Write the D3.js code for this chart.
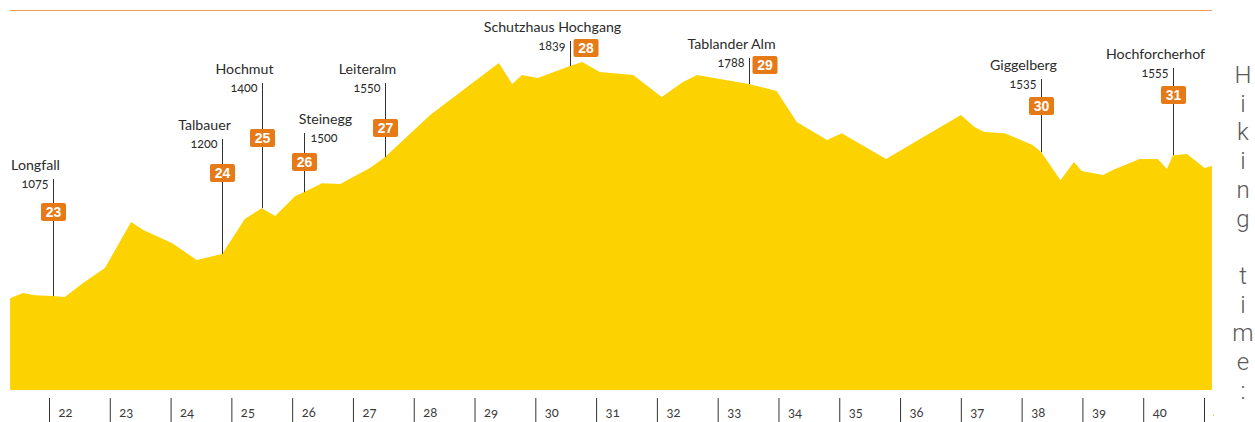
<!DOCTYPE html>
<html>
<head>
<meta charset="utf-8">
<script src="https://cdn.jsdelivr.net/npm/d3@7"></script>
<style>
  html, body { margin: 0; padding: 0; background: #fff; }
  svg { display: block; }
  .name { font-family: Lato, "Open Sans", sans-serif; font-size: 14.2px; fill: #2b2b2b; }
  .elev { font-family: Lato, "Open Sans", sans-serif; font-size: 12.5px; fill: #2b2b2b; font-variant-numeric: oldstyle-nums; }
  .badge-text { font-family: "Liberation Sans", Arial, sans-serif; font-size: 14px; font-weight: bold; fill: #fff; }
  .tick-label { font-family: Lato, "Open Sans", sans-serif; font-size: 13px; fill: #3a3a3a; font-variant-numeric: oldstyle-nums; }
  .side-title { font-family: Roboto, "Open Sans", sans-serif; font-weight: 300; font-size: 24px; fill: #5a5a5a; }
</style>
</head>
<body>
<script>
"use strict";

// elevation profile (km along route, metres)
const profileKm = [21.36, 21.57, 21.77, 22.07, 22.26, 22.56, 22.92, 23.35, 23.55, 24.02,
  24.43, 24.85, 25.22, 25.50, 25.72, 26.05, 26.19, 26.49, 26.79, 27.28,
  27.53, 28.27, 29.40, 29.62, 29.78, 30.04, 30.57, 30.77, 31.06, 31.61,
  32.08, 32.43, 32.66, 33.51, 33.97, 34.30, 34.80, 35.04, 35.77, 37.00,
  37.23, 37.39, 37.72, 38.18, 38.32, 38.64, 38.86, 38.99, 39.34, 39.50,
  39.94, 40.24, 40.39, 40.49, 40.72, 41.01, 41.13];
const profileElev = [1068, 1085, 1078, 1075, 1072, 1118, 1168, 1321, 1294, 1251,
  1195, 1215, 1331, 1367, 1341, 1407, 1420, 1450, 1447, 1500,
  1537, 1676, 1849, 1779, 1809, 1799, 1839, 1852, 1819, 1809,
  1736, 1786, 1809, 1779, 1756, 1653, 1593, 1616, 1530, 1676,
  1636, 1620, 1616, 1577, 1553, 1460, 1520, 1490, 1477, 1494,
  1530, 1530, 1497, 1543, 1547, 1500, 1507];

// waypoints
const stationNames = ['Longfall', 'Talbauer', 'Hochmut', 'Steinegg', 'Leiteralm',
  'Schutzhaus Hochgang', 'Tablander Alm', 'Giggelberg', 'Hochforcherhof'];
const stationElev = ['1075', '1200', '1400', '1500', '1550', '1839', '1788', '1535', '1555'];
const stationNo = ['23', '24', '25', '26', '27', '28', '29', '30', '31'];
const stationKm = [22.07, 24.85, 25.50, 26.19, 27.53, 30.57, 33.51, 38.32, 40.49];

// axis ticks (km)
const tickKm = d3.range(22, 42);
const sideTitle = 'Hiking time:';

// label placement (annotation layout only)
const labelLayout = [
  { nameY: 165, badgeY: 212, side: 'left', inline: false },
  { nameY: 125, badgeY: 173, side: 'left', inline: false },
  { nameY: 69, badgeY: 138, side: 'left', inline: false },
  { nameY: 119, badgeY: 162, side: 'right', inline: false },
  { nameY: 69, badgeY: 128, side: 'left', inline: false },
  { nameY: 27, badgeY: 0, side: 'left', inline: true },
  { nameY: 44, badgeY: 0, side: 'left', inline: true },
  { nameY: 65, badgeY: 106, side: 'left', inline: false },
  { nameY: 54, badgeY: 95, side: 'left', inline: false }
];

const width = 1255, height = 422;
const plotBottom = 390, plotTop = 10;
const plotLeft = 10, plotRight = 1212;

const svg = d3.select('body').append('svg')
  .attr('width', width)
  .attr('height', height);

const x = d3.scaleLinear().domain([22, 41]).range([49, 1204]);
const y = d3.scaleLinear().domain([763, 2025]).range([plotBottom, plotTop]);

const profile = profileKm.map((k, i) => ({ km: k, elev: profileElev[i] }));

// top rule
svg.append('line')
  .attr('x1', plotLeft).attr('x2', plotRight)
  .attr('y1', plotTop + 0.5).attr('y2', plotTop + 0.5)
  .attr('stroke', '#ec9a55')
  .attr('stroke-width', 1.2);

// profile area
const area = d3.area()
  .x((d) => x(d.km))
  .y0(plotBottom)
  .y1((d) => y(d.elev));

svg.append('path')
  .datum(profile)
  .attr('d', area)
  .attr('fill', '#fcd200');

// axis (clipped at the right edge like the original)
svg.append('clipPath').attr('id', 'axis-clip')
  .append('rect').attr('x', 0).attr('y', -8).attr('width', 1214).attr('height', 40);

const axisG = svg.append('g')
  .attr('clip-path', 'url(#axis-clip)')
  .attr('transform', 'translate(0,398)');

const axis = d3.axisBottom(x)
  .tickValues(tickKm)
  .tickSize(24)
  .tickFormat(d3.format('d'));

axisG.call(axis);
axisG.select('.domain').remove();
axisG.selectAll('.tick line').attr('stroke', '#333').attr('stroke-width', 1);
axisG.selectAll('.tick text')
  .attr('class', 'tick-label')
  .attr('text-anchor', 'start')
  .attr('x', 9)
  .attr('y', 19)
  .attr('dy', null);

// interpolate surface height at a given km
const surface = (km) => {
  const i = d3.bisector((d) => d.km).left(profile, km);
  if (i <= 0) return profile[0].elev;
  if (i >= profile.length) return profile[profile.length - 1].elev;
  const a = profile[i - 1], b = profile[i];
  const t = (km - a.km) / (b.km - a.km);
  return a.elev + (b.elev - a.elev) * t;
};

// waypoints
const stations = stationNames.map((name, i) => ({
  name: name,
  elev: stationElev[i],
  no: stationNo[i],
  km: stationKm[i],
  layout: labelLayout[i]
}));

const st = svg.append('g').selectAll('g')
  .data(stations)
  .join('g')
  .attr('transform', (d) => `translate(${Math.round(x(d.km)) + 0.5},0)`);

st.append('line')
  .attr('x1', 0).attr('x2', 0)
  .attr('y1', (d) => d.layout.nameY + 14)
  .attr('y2', (d) => y(surface(d.km)))
  .attr('stroke', '#333')
  .attr('stroke-width', 1);

st.append('text')
  .attr('class', 'name')
  .attr('text-anchor', 'middle')
  .attr('x', (d) => d.layout.side === 'left' ? -18 : 21)
  .attr('y', (d) => d.layout.nameY + 5)
  .text((d) => d.name);

st.append('text')
  .attr('class', 'elev')
  .attr('text-anchor', (d) => d.layout.side === 'left' ? 'end' : 'start')
  .attr('x', (d) => d.layout.side === 'left' ? -5 : 6)
  .attr('y', (d) => d.layout.nameY + 22.5)
  .text((d) => d.elev);

const badgeW = 25, badgeH = 18;

const badge = st.append('g')
  .attr('transform', (d) => d.layout.inline
    ? `translate(${3 + badgeW / 2},${d.layout.nameY + 21})`
    : `translate(0,${d.layout.badgeY})`);

badge.append('rect')
  .attr('x', -badgeW / 2).attr('y', -badgeH / 2)
  .attr('width', badgeW).attr('height', badgeH)
  .attr('rx', 2)
  .attr('fill', '#e67a17');

badge.append('text')
  .attr('class', 'badge-text')
  .attr('text-anchor', 'middle')
  .attr('y', 5)
  .text((d) => d.no);

// vertical side title
svg.append('text')
  .attr('class', 'side-title')
  .attr('text-anchor', 'middle')
  .selectAll('tspan')
  .data(sideTitle.split(''))
  .join('tspan')
  .attr('x', 1243)
  .attr('y', (d, i) => 83 + i * 28.7)
  .text((d) => d);
</script>
</body>
</html>
